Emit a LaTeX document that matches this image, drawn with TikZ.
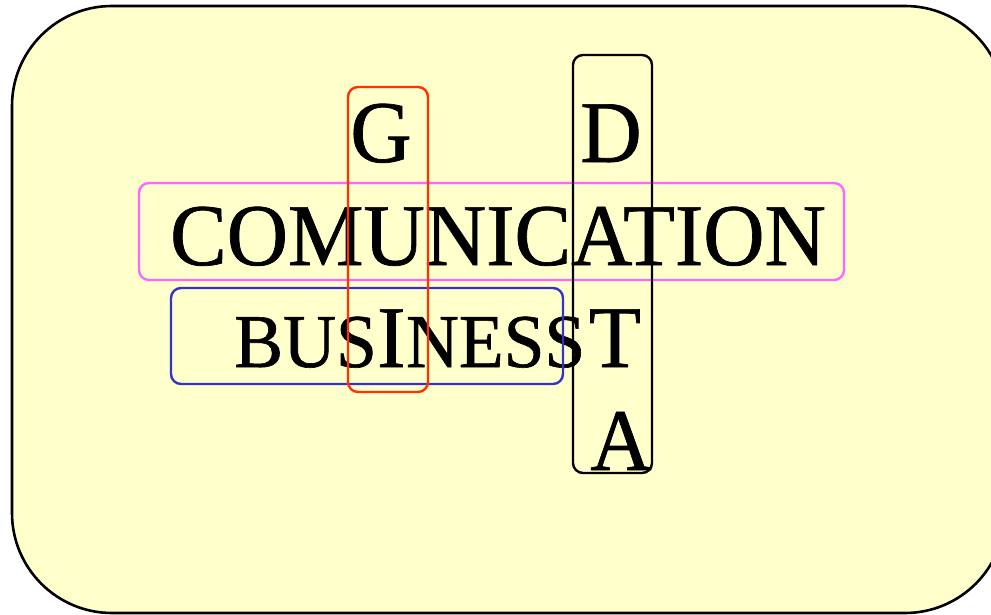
\documentclass[tikz,border=0pt]{standalone}
\usepackage{fontspec}
\setmainfont{Liberation Serif}
\newfontfamily\slidefont[FakeStretch=0.965, FakeBold=0.8]{Liberation Serif}
\usetikzlibrary{positioning}
\definecolor{slidebg}{RGB}{255,255,204}
\definecolor{guired}{RGB}{255,51,0}
\definecolor{commagenta}{RGB}{255,102,255}
\definecolor{busblue}{RGB}{51,51,204}
\tikzset{
  bigletter/.style={font=\slidefont\fontsize{88}{88}\selectfont, inner sep=0pt},
  smallletter/.style={font=\slidefont\fontsize{76}{76}\selectfont, inner sep=0pt},
  wordbox/.style={rounded corners=10pt, line width=2.4pt}
}
\begin{document}
\begin{tikzpicture}[x=1pt, y=-1pt]
  \useasboundingbox (0,0) rectangle (991,615);
  \clip (0,0) rectangle (991,615);

  % Slide background
  \draw[fill=slidebg, line width=2.6pt, rounded corners=100pt] (12,6) rectangle (1005,613);

  % Row 1: G and D
  \node[bigletter, anchor=base] (g) at (381,162) {G};
  \node[bigletter, anchor=base] (d) at (611,162) {D};

  % Row 2: COMUNICATION
  \node[bigletter, anchor=base] (comm) at (498,265) {COMUNICATION};

  % Row 3: BUSINESS and T
  \node[smallletter, anchor=base west] (bus) at (234,367) {BUS};
  \node[bigletter, anchor=base west] (busi) at (bus.base east) {I};
  \node[smallletter, anchor=base west] (ness) at (busi.base east) {NESS};
  \node[bigletter, anchor=base] (t) at (615,367) {T};

  % Row 4: A
  \node[bigletter, anchor=base] (a) at (621,470) {A};

  % Word boxes
  \draw[wordbox, commagenta] (139,183) rectangle (844,280);
  \draw[wordbox, busblue] (171,288) rectangle (563,384);
  \draw[wordbox, guired] (348,87) rectangle (428,392);
  \draw[wordbox, black] (573,55) rectangle (652,473);
\end{tikzpicture}
\end{document}
